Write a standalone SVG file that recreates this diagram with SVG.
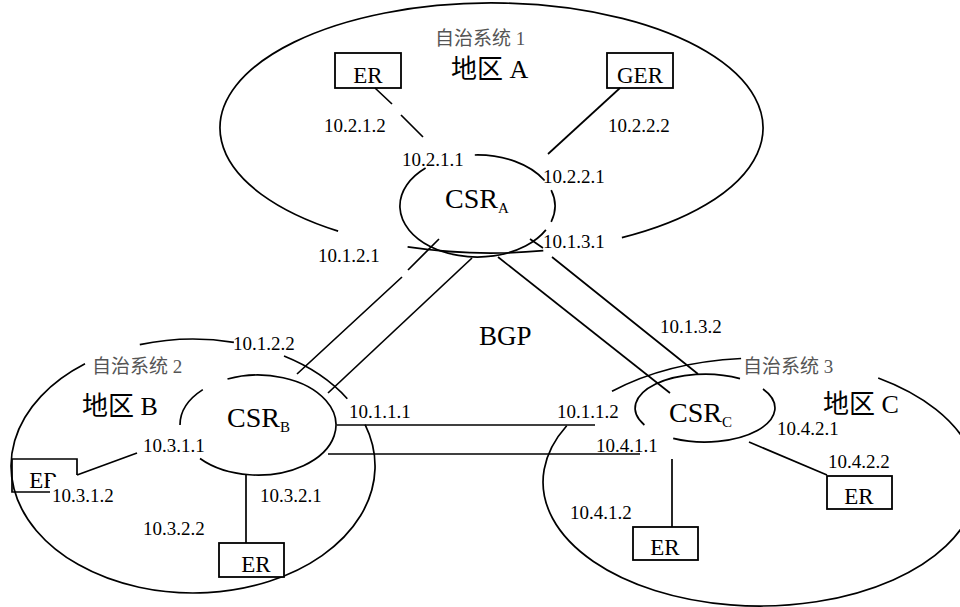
<svg xmlns="http://www.w3.org/2000/svg" width="960" height="607" viewBox="0 0 960 607">
<style>
.ln{fill:none;stroke:#000;stroke-width:1.7}
.box{fill:#fff;stroke:#000;stroke-width:1.8}
.ip{font-family:"Liberation Serif","Times New Roman",serif;font-size:19px;fill:#000}
.as{font-family:"Liberation Serif","Noto Sans CJK SC",serif;font-size:19px;fill:#555}
.rg{font-family:"Liberation Serif","Noto Sans CJK SC",serif;font-size:26px;fill:#000}
.er{font-family:"Liberation Serif","Times New Roman",serif;font-size:23px;fill:#000;text-anchor:middle}
.csr{font-family:"Liberation Serif","Times New Roman",serif;font-size:28px;fill:#000}
.sub{font-size:15px}
</style>
<defs>
<clipPath id="clipEF"><path d="M0,440 H100 V477 H50 V510 H0 Z"/></clipPath>
</defs>

<g id="as1">
<path class="ln" d="M338.1,231.1 A271.5,125 0 1 1 621.9,237.6"/>
<path class="ln" d="M543.3,250.7 A271.5,125 0 0 1 407.6,246.9"/>
<text class="as" x="435" y="45">自治系统 1</text>
<text class="rg" x="451" y="78">地区 A</text>
</g>

<g id="as2">
<path class="ln" d="M139.8,344.6 A182,127 0 0 1 233.9,342.3"/>
<path class="ln" d="M284,356 A182,127 0 0 1 347.3,398.7"/>
<path class="ln" d="M365.1,424.6 A182,127 0 1 1 85,363.8"/>
<text class="as" x="92" y="373">自治系统 2</text>
<text class="rg" x="82" y="415">地区 B</text>
</g>

<g id="as3">
<path class="ln" d="M612,391.3 A217,124 0 0 1 741.1,358.5"/>
<path class="ln" d="M878.2,378 A217,124 0 1 1 566.7,425.7"/>
<text class="as" x="743" y="373">自治系统 3</text>
<text class="rg" x="823" y="413">地区 C</text>
</g>

<g id="csrA">
<path class="ln" d="M474.8,155 A77.5,51 0 0 1 544.6,180.5"/>
<path class="ln" d="M551.2,190.2 A77.5,51 0 0 1 551.2,221.8"/>
<path class="ln" d="M545.9,229.9 A77.5,51 0 1 1 425.6,168.1"/>
<text class="csr" x="445" y="208">CSR<tspan class="sub" dy="5">A</tspan></text>
</g>

<g id="csrB">
<path class="ln" d="M227.5,379 A78,50 0 1 1 200,458.5"/>
<path class="ln" d="M180,425 A78,50 0 0 1 202.8,389.6"/>
<text class="csr" x="227" y="427">CSR<tspan class="sub" dy="5">B</tspan></text>
</g>

<g id="csrC">
<path class="ln" d="M644.4,425 A70,34 0 0 1 740,378.6"/>
<path class="ln" d="M763,389 A70,34 0 0 1 673.2,438.3"/>
<text class="csr" x="669" y="422">CSR<tspan class="sub" dy="5">C</tspan></text>
</g>

<g id="erA">
<rect class="box" x="335" y="53" width="66" height="35"/>
<text class="er" x="368" y="83">ER</text>
</g>

<g id="gerA">
<rect class="box" x="607" y="53" width="66" height="35"/>
<text class="er" x="640" y="83">GER</text>
</g>

<g id="erB1">
<path class="ln" d="M50,492 H12 V459 H77 V475"/>
<text class="er" x="44" y="488" clip-path="url(#clipEF)">ER</text>
</g>

<g id="erB2">
<rect class="box" x="219" y="543" width="65" height="34"/>
<text class="er" x="256" y="572">ER</text>
</g>

<g id="erC1">
<rect class="box" x="633" y="527" width="65" height="33"/>
<text class="er" x="665" y="555">ER</text>
</g>

<g id="erC2">
<rect class="box" x="827" y="476" width="65" height="33"/>
<text class="er" x="859" y="504">ER</text>
</g>

<g id="connectors">
<path class="ln" d="M375,88 L392,104 M401,115 L423,137"/>
<path class="ln" d="M620,88 L548,154"/>
<path class="ln" d="M439,239 L408,270 M402,277 L297,374"/>
<path class="ln" d="M472,258 L328,393"/>
<path class="ln" d="M498,257 L670,393"/>
<path class="ln" d="M530,239 L543,248 M552,257 L698,374"/>
<path class="ln" d="M337,425 L595,425"/>
<path class="ln" d="M328,454 L640,454"/>
<path class="ln" d="M77,475 L137,453"/>
<path class="ln" d="M246,475 L246,543"/>
<path class="ln" d="M672,459 L672,527"/>
<path class="ln" d="M749,442 L827,475"/>
</g>

<g id="labels">
<text class="ip" x="324" y="132">10.2.1.2</text>
<text class="ip" x="608" y="132">10.2.2.2</text>
<text class="ip" x="402" y="166">10.2.1.1</text>
<text class="ip" x="543" y="183">10.2.2.1</text>
<text class="ip" x="543" y="248">10.1.3.1</text>
<text class="ip" x="318" y="262">10.1.2.1</text>
<text class="ip" x="660" y="333">10.1.3.2</text>
<text class="ip" x="233" y="350">10.1.2.2</text>
<text class="ip" x="349" y="418">10.1.1.1</text>
<text class="ip" x="557" y="418">10.1.1.2</text>
<text class="ip" x="596" y="452">10.4.1.1</text>
<text class="ip" x="143" y="452">10.3.1.1</text>
<text class="ip" x="777" y="435">10.4.2.1</text>
<text class="ip" x="828" y="468">10.4.2.2</text>
<text class="ip" x="52" y="502">10.3.1.2</text>
<text class="ip" x="260" y="502">10.3.2.1</text>
<text class="ip" x="570" y="519">10.4.1.2</text>
<text class="ip" x="143" y="535">10.3.2.2</text>
<text class="csr" x="479" y="345" style="font-size:27px">BGP</text>
</g>
</svg>
